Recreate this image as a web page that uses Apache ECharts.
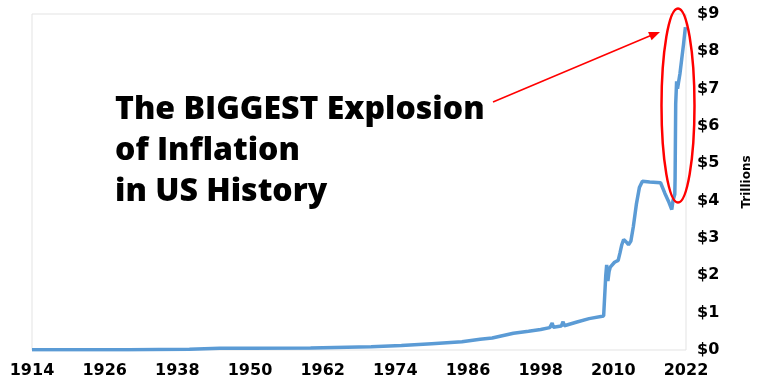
<!DOCTYPE html>
<html>
<head>
<meta charset="utf-8">
<script src="https://cdn.jsdelivr.net/npm/echarts@6/dist/echarts.min.js"></script>
<style>html,body{margin:0;padding:0;background:#fff}#c{width:768px;height:392px}</style>
</head>
<body>
<div id="c"></div>
<script>
const startYear = 1914;
const xTickLabels = ['1914','1926','1938','1950','1962','1974','1986','1998','2010','2022'];
const yTickLabels = ['$0','$1','$2','$3','$4','$5','$6','$7','$8','$9'];
const years = [
 1914, 1920, 1930, 1940, 1945, 1950, 1960, 1970, 1975, 1980, 1985, 1988, 1990, 1993.5, 1996, 1998,
 1999.5, 1999.9, 2000.1, 2001.4, 2001.7, 2001.9, 2004, 2006, 2008.4, 2008.65,
 2008.75, 2008.9, 2009.1, 2009.3, 2009.5, 2009.8, 2010.2, 2010.8, 2011.1, 2011.4, 2011.7, 2012.1,
 2012.5, 2012.9, 2013.3, 2013.8, 2014.3, 2014.8, 2016, 2017.8, 2018.5, 2019.2, 2019.65, 2019.85,
 2020.15, 2020.2, 2020.3, 2020.45, 2020.6, 2020.75, 2021.0, 2021.3, 2021.6, 2021.9
];
const trillions = [
 0.005, 0.006, 0.006, 0.02, 0.045, 0.05, 0.055, 0.085, 0.12, 0.17, 0.22, 0.29, 0.32, 0.45, 0.5, 0.55,
 0.6, 0.72, 0.61, 0.64, 0.76, 0.65, 0.75, 0.84, 0.91, 0.92,
 2.0, 2.28, 1.85, 2.1, 2.22, 2.25, 2.35, 2.4, 2.6, 2.82, 2.96, 2.9,
 2.82, 2.92, 3.3, 3.9, 4.35, 4.52, 4.5, 4.48, 4.2, 3.95, 3.76, 4.0,
 4.17, 4.6, 6.6, 7.2, 7.0, 7.15, 7.4, 7.8, 8.2, 8.65
];
const lineData = years.map((y, i) => [y - startYear, trillions[i]]);

const chart = echarts.init(document.getElementById('c'), null, {renderer: 'canvas'});
const labelFont = 'DejaVu Sans';
chart.setOption({
  animation: false,
  backgroundColor: '#ffffff',
  grid: {left: 32, right: 82, top: 14, bottom: 42, show: true, borderColor: '#e3e3e3', borderWidth: 1},
  xAxis: {
    type: 'value', min: 0, max: 108, interval: 12,
    axisLine: {show: false}, axisTick: {show: false}, splitLine: {show: false},
    axisLabel: {
      margin: 13, color: '#000', fontFamily: labelFont, fontWeight: 'bold', fontSize: 16,
      formatter: v => xTickLabels[Math.round(v / 12)] || ''
    }
  },
  yAxis: {
    type: 'value', position: 'right', min: 0, max: 9, interval: 1,
    axisLine: {show: false}, axisTick: {show: false}, splitLine: {show: false},
    axisLabel: {
      margin: 11, color: '#000', fontFamily: labelFont, fontWeight: 'bold', fontSize: 16,
      formatter: v => yTickLabels[Math.round(v)] || ''
    },
    name: 'Trillions', nameLocation: 'middle', nameGap: 55, nameRotate: 90,
    nameTextStyle: {color: '#000', fontFamily: labelFont, fontWeight: 'bold', fontSize: 12}
  },
  series: [{
    type: 'line', data: lineData, showSymbol: false, symbol: 'none',
    lineStyle: {color: '#5b9bd5', width: 3.5}, z: 3
  }],
  graphic: [
    {type: 'text', left: 115, top: 89, z: 10,
     style: {text: 'The BIGGEST Explosion\nof Inflation\nin US History', fill: '#000',
             font: '800 32px "Open Sans"', lineHeight: 41}},
    {type: 'line', z: 10, shape: {x1: 493, y1: 102, x2: 652, y2: 35},
     style: {stroke: '#ff0000', lineWidth: 1.5}},
    {type: 'polygon', z: 10, shape: {points: [[660, 32], [651.6, 40.2], [648.1, 31.9]]},
     style: {fill: '#ff0000'}},
    {type: 'ellipse', z: 10, shape: {cx: 678, cy: 105.5, rx: 16.5, ry: 97},
     style: {fill: 'none', stroke: '#ff0000', lineWidth: 2.5}}
  ]
});
</script>
</body>
</html>
